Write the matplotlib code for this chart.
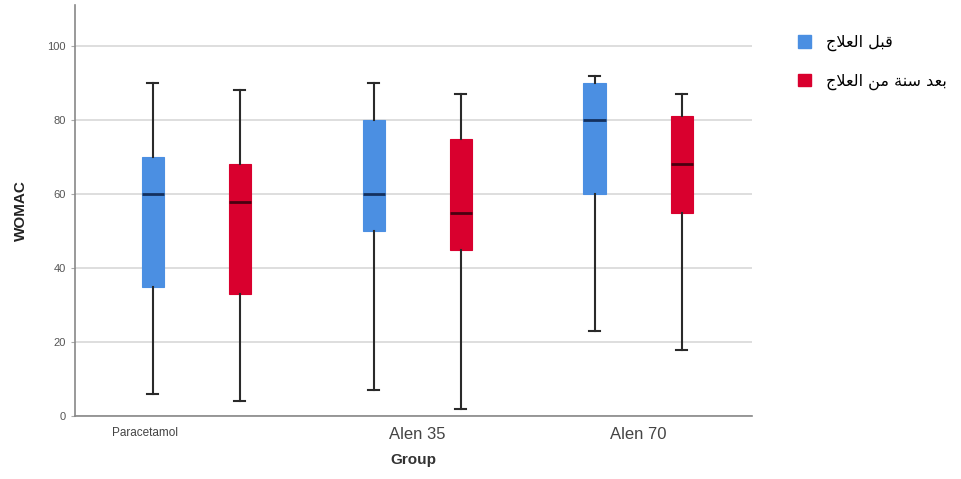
import numpy as np
import matplotlib
matplotlib.use("Agg")
import matplotlib.pyplot as plt
from matplotlib.patches import Patch
from matplotlib.transforms import ScaledTranslation

plt.rcParams["font.family"] = ["Liberation Sans", "DejaVu Sans"]

groups = ["Paracetamol", "Alen 35", "Alen 70"]
series_names = ["قبل العلاج", "بعد سنة من العلاج"]

# five-number summaries: min, q1, median, q3, max
before_min = [6, 7, 23]
before_q1 = [35, 50, 60]
before_med = [60, 60, 80]
before_q3 = [70, 80, 90]
before_max = [90, 90, 92]

after_min = [4, 2, 18]
after_q1 = [33, 45, 55]
after_med = [58, 55, 68]
after_q3 = [68, 75, 81]
after_max = [88, 87, 87]

y_ticks = [0, 20, 40, 60, 80, 100]

BLUE = "#4b8fe2"
RED = "#d9002e"

# minimal arabic shaping (DejaVu Sans has the presentation forms)
FORMS = {
    "ا": ("\uFE8D", "\uFE8E", None, None),
    "ب": ("\uFE8F", "\uFE90", "\uFE91", "\uFE92"),
    "ج": ("\uFE9D", "\uFE9E", "\uFE9F", "\uFEA0"),
    "د": ("\uFEA9", "\uFEAA", None, None),
    "س": ("\uFEB1", "\uFEB2", "\uFEB3", "\uFEB4"),
    "ع": ("\uFEC9", "\uFECA", "\uFECB", "\uFECC"),
    "ق": ("\uFED5", "\uFED6", "\uFED7", "\uFED8"),
    "ل": ("\uFEDD", "\uFEDE", "\uFEDF", "\uFEE0"),
    "م": ("\uFEE1", "\uFEE2", "\uFEE3", "\uFEE4"),
    "ن": ("\uFEE5", "\uFEE6", "\uFEE7", "\uFEE8"),
    "ة": ("\uFE93", "\uFE94", None, None),
    "LA": ("\uFEFB", "\uFEFC", None, None),
}


def shape_arabic(text):
    # join letters, then reverse for right-to-left display
    chars = []
    i = 0
    while i < len(text):
        if text[i] == "ل" and i + 1 < len(text) and text[i + 1] == "ا":
            chars.append("LA")
            i += 2
        else:
            chars.append(text[i])
            i += 1
    out = []
    for k, c in enumerate(chars):
        if c not in FORMS:
            out.append(c)
            continue
        prev = chars[k - 1] if k > 0 else None
        nxt = chars[k + 1] if k + 1 < len(chars) else None
        join_prev = prev in FORMS and FORMS[prev][2] is not None
        join_next = nxt in FORMS and FORMS[c][2] is not None
        iso, fin, ini, med = FORMS[c]
        if join_prev and join_next:
            out.append(med)
        elif join_prev:
            out.append(fin)
        elif join_next:
            out.append(ini)
        else:
            out.append(iso)
    return "".join(out)[::-1]


def stats(mins, q1s, meds, q3s, maxs):
    return [
        {"whislo": a, "q1": b, "med": c, "q3": d, "whishi": e, "fliers": []}
        for a, b, c, d, e in zip(mins, q1s, meds, q3s, maxs)
    ]


fig = plt.figure(figsize=(9.62, 4.79), dpi=100)
ax = fig.add_axes([0.078, 0.131, 0.704, 0.858])

x = np.arange(len(groups))
offset = 0.197
common = dict(
    widths=0.1,
    patch_artist=True,
    showfliers=False,
    whiskerprops=dict(color="#2a2a2a", linewidth=1.5),
    capprops=dict(color="#2a2a2a", linewidth=1.5),
    capwidths=0.05,
    manage_ticks=False,
)
ax.bxp(
    stats(before_min, before_q1, before_med, before_q3, before_max),
    positions=x - offset,
    boxprops=dict(facecolor=BLUE, edgecolor=BLUE, linewidth=0.8),
    medianprops=dict(color="#14305e", linewidth=2),
    zorder=3,
    **common,
)
ax.bxp(
    stats(after_min, after_q1, after_med, after_q3, after_max),
    positions=x + offset,
    boxprops=dict(facecolor=RED, edgecolor=RED, linewidth=0.8),
    medianprops=dict(color="#4a0010", linewidth=2),
    zorder=3,
    **common,
)

ax.set_xlim(-0.548, 2.517)
ax.set_ylim(0, 111)
ax.set_yticks(y_ticks)
ax.tick_params(axis="y", labelsize=8, labelcolor="#555555", length=3, color="#aaaaaa")
ax.yaxis.grid(True, color="#d8d8d8", linewidth=1.2, zorder=0)
ax.set_axisbelow(True)

ax.set_xticks(x)
ax.set_xticklabels(groups, color="#444444")
ax.tick_params(axis="x", length=0, pad=8)
labels = ax.get_xticklabels()
labels[0].set_fontsize(8.5)
labels[0].set_transform(labels[0].get_transform() + ScaledTranslation(-0.51, 0.0, fig.dpi_scale_trans))
for lab in labels[1:]:
    lab.set_fontsize(12)

for side in ["top", "right"]:
    ax.spines[side].set_visible(False)
for side in ["left", "bottom"]:
    ax.spines[side].set_color("#888888")
    ax.spines[side].set_linewidth(1.2)

ax.set_ylabel("WOMAC", fontsize=11, fontweight="bold", color="#222222", labelpad=14)
ax.set_xlabel("Group", fontsize=11, fontweight="bold", color="#333333", labelpad=8)

handles = [Patch(facecolor=BLUE, edgecolor=BLUE), Patch(facecolor=RED, edgecolor=RED)]
fig.legend(
    handles,
    [shape_arabic(s) for s in series_names],
    loc="upper left",
    bbox_to_anchor=(0.815, 0.957),
    frameon=False,
    prop={"family": "DejaVu Sans", "size": 11.5},
    handlelength=0.8,
    handleheight=0.8,
    handletextpad=0.9,
    labelspacing=1.4,
)

fig.savefig("out.png", dpi=100)
